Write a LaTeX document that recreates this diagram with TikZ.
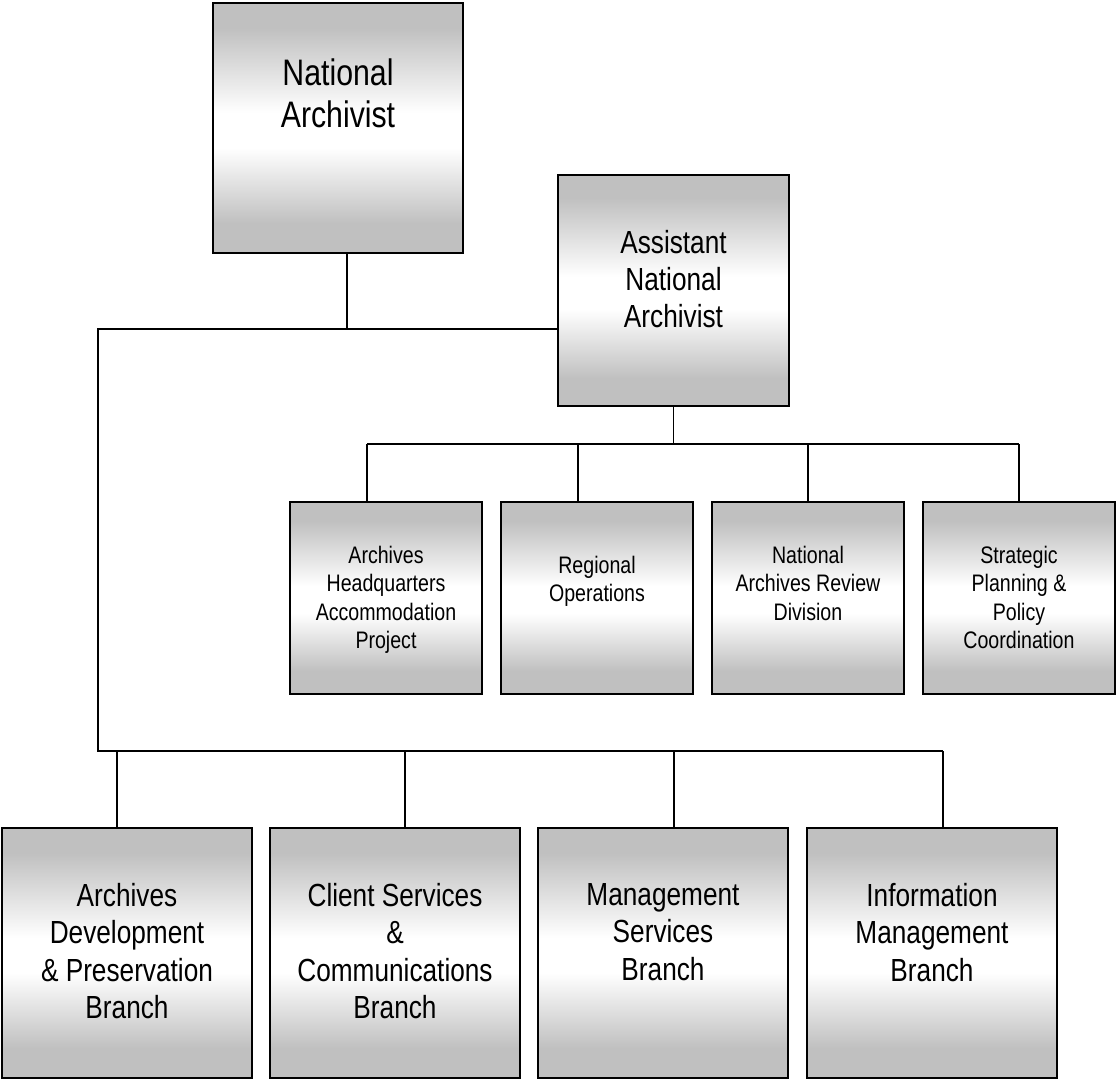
\documentclass[tikz,border=0pt]{standalone}
\usepackage{fontspec}
\setmainfont[FakeStretch=0.82]{Liberation Sans}
\definecolor{boxgray}{RGB}{192,192,192}
\pgfdeclareverticalshading{boxshade}{100bp}{color(0bp)=(boxgray); color(31bp)=(boxgray); color(46bp)=(white); color(53bp)=(white); color(70bp)=(boxgray); color(100bp)=(boxgray)}
\tikzset{
  unit/.style={draw=black, line width=1.2pt, shading=boxshade, inner sep=0pt},
  bigunit/.style={unit, minimum width=5cm, minimum height=5cm},
  subunit/.style={unit, minimum width=3.84cm, minimum height=3.84cm},
  conn/.style={line width=0.9pt},
  headtxt/.style={anchor=north, align=center, inner sep=0pt, font=\fontsize{21pt}{23.9pt}\selectfont},
  midtxt/.style={anchor=north, align=center, inner sep=0pt, font=\fontsize{18.2pt}{21.3pt}\selectfont},
  subtxt/.style={anchor=north, align=center, inner sep=0pt, font=\fontsize{13.6pt}{16.1pt}\selectfont}
}
\begin{document}
\begin{tikzpicture}[x=0.02cm, y=-0.02cm]
\useasboundingbox (0,0) rectangle (1117,1080);

% boxes
\node[bigunit] (na) at (338,128) {};
\node[unit, minimum width=4.62cm, minimum height=4.62cm] (ana) at (673.5,290.5) {};
\foreach \n/\x in {1/386,2/597,3/808,4/1019}
	\node[subunit] (sub\n) at (\x,598) {};
\foreach \n/\x in {1/127,2/395,3/663,4/932}
	\node[bigunit] (br\n) at (\x,953) {};

% texts
\node[headtxt] (na-txt) at (338,58.5) {National\\Archivist};
\node[midtxt, font=\fontsize{18.2pt}{21pt}\selectfont] (ana-txt) at (673.5,230) {Assistant\\National\\Archivist};
\node[subtxt] (sub1-txt) at (386,546) {Archives\\Headquarters\\Accommodation\\Project};
\node[subtxt] (sub2-txt) at (597,556) {Regional\\Operations};
\node[subtxt] (sub3-txt) at (808,546) {National\\Archives Review\\Division};
\node[subtxt] (sub4-txt) at (1019,546) {Strategic\\Planning \&\\Policy\\Coordination};
\node[midtxt] (br1-txt) at (127,883) {Archives\\Development\\\& Preservation\\Branch};
\node[midtxt] (br2-txt) at (395,883) {Client Services\\\&\\Communications\\Branch};
\node[midtxt] (br3-txt) at (663,883) {Management\\Services\\Branch};
\node[midtxt] (br4-txt) at (932,883) {Information\\Management\\Branch};

% connectors
\coordinate (trunk) at (98,329);
\coordinate (nadrop) at (347,329);
\foreach \n/\x in {1/367,2/578,3/808,4/1019}
	\coordinate (sd\n) at (\x,444);
\foreach \n/\x in {1/117,2/405,3/674,4/943}
	\coordinate (bd\n) at (\x,751);

\draw[conn] (nadrop |- na.south) -- (nadrop);
\draw[conn] (ana.west |- trunk) -- (trunk) -- (trunk |- bd1) -- (bd4);
\draw[conn] (ana.south) -- (ana.south |- sd1);
\draw[conn] (sd1) -- (sd4);
\foreach \n in {1,2,3,4}
	\draw[conn] (sd\n) -- (sd\n |- sub\n.north);
\foreach \n in {1,2,3,4}
	\draw[conn] (bd\n) -- (bd\n |- br\n.north);
\end{tikzpicture}
\end{document}
